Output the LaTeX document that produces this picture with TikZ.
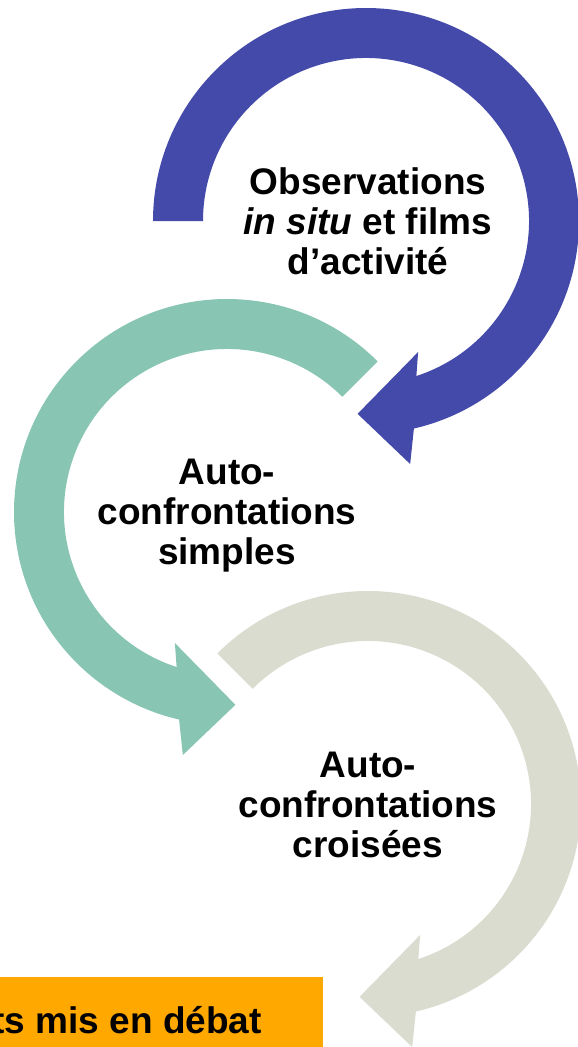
\documentclass[tikz,border=0pt]{standalone}
\usepackage{fontspec}
\setmainfont{Liberation Sans}
\definecolor{arcblue}{RGB}{68,74,169}
\definecolor{arcgreen}{RGB}{137,197,179}
\definecolor{arcgrey}{RGB}{217,220,207}
\definecolor{debatorange}{RGB}{255,168,0}
\begin{document}
\begin{tikzpicture}[
		x=1pt, y=-1pt,
		steptext/.style={font=\fontsize{37}{40}\selectfont\bfseries, align=center, inner sep=0pt},
		bluearrow/.style={fill=arcblue},
		greenarrow/.style={fill=arcgreen},
		greyarrow/.style={fill=arcgrey},
		debatbox/.style={fill=debatorange}
	]
	\useasboundingbox (0,0) rectangle (578,1047);
	\coordinate (cblue) at (366,221);
	\coordinate (cgreen) at (227,512);
	\coordinate (cgrey) at (368,804);

	% Observations
	\fill[bluearrow, shift={(cblue)}] (180:213) arc[start angle=180, end angle=437, radius=213]
		-- (439.7:247) -- (452.5:193) -- (428.3:141) -- (432:163)
		arc[start angle=432, end angle=180, radius=163] -- cycle;
	\node[steptext] (obs) at (368,221) {Observations\\\textit{in situ} et films\\d’activité};

	% Auto-confrontations simples
	\fill[greenarrow, shift={(cgreen)}] (-45:213) arc[start angle=-45, end angle=-257, radius=213]
		-- (-259.7:247) -- (-272.5:193) -- (-248.3:141) -- (-252:163)
		arc[start angle=-252, end angle=-45, radius=163] -- cycle;
	\node[steptext] (simples) at (227,516) {Auto-\\confrontations\\simples};

	% Auto-confrontations croisees
	\fill[greyarrow, shift={(cgrey)}] (225:213) arc[start angle=225, end angle=437, radius=213]
		-- (439.7:247) -- (452.5:193) -- (428.3:141) -- (432:163)
		arc[start angle=432, end angle=225, radius=163] -- cycle;
	\node[steptext] (croisees) at (368,805) {Auto-\\confrontations\\croisées};

	% debat
	\fill[debatbox] (-10,977) rectangle (323,1060);
	\node[steptext, anchor=base east] (debat) at (262,1033) {ts mis en débat};
\end{tikzpicture}
\end{document}
